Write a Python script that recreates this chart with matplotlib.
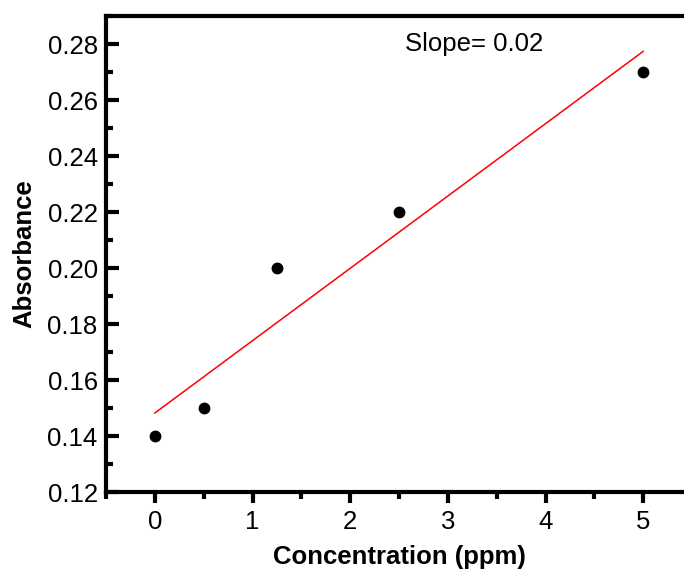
import numpy as np
import matplotlib
matplotlib.use('Agg')
import matplotlib.pyplot as plt
from matplotlib.ticker import MultipleLocator

plt.rcParams['font.family'] = ['Liberation Sans', 'DejaVu Sans']

# Data
conc = [0, 0.5, 1.25, 2.5, 5]
absorb = [0.14, 0.15, 0.20, 0.22, 0.27]
slope_text = 'Slope= 0.02'
xlabel = 'Concentration (ppm)'
ylabel = 'Absorbance'

# linear fit
k, b = np.polyfit(conc, absorb, 1)
xfit = np.array([min(conc), max(conc)])
yfit = k * xfit + b

fig = plt.figure(figsize=(6.84, 5.76), dpi=100)
# axes runs past the right edge, as in the cropped reference
ax = fig.add_axes([106 / 684, 1 - 492 / 576, 586 / 684, 476 / 576])

ax.plot(xfit, yfit, color='red', lw=1.1)
ax.plot(conc, absorb, 'o', color='black', ms=7.5)

ax.set_xlim(-0.5, 5.5)
ax.set_ylim(0.12, 0.29)
ax.xaxis.set_major_locator(MultipleLocator(1))
ax.xaxis.set_minor_locator(MultipleLocator(0.5))
ax.yaxis.set_major_locator(MultipleLocator(0.02))
ax.yaxis.set_minor_locator(MultipleLocator(0.01))
ax.yaxis.set_major_formatter(plt.FormatStrFormatter('%.2f'))

for s in ['left', 'top', 'bottom']:
    ax.spines[s].set_linewidth(3)
ax.spines['right'].set_visible(False)

ax.tick_params(axis='y', which='major', direction='in', length=9, width=3, pad=6, labelsize=18.5)
ax.tick_params(axis='y', which='minor', direction='in', length=5, width=3)
ax.tick_params(axis='x', which='major', direction='out', length=8, width=3, pad=5, labelsize=18.5)
ax.tick_params(axis='x', which='minor', direction='out', length=5, width=3)

ax.text(2.56, 0.28, slope_text, fontsize=18.5, va='center', ha='left')

ax.set_xlabel(xlabel, fontsize=18.5, fontweight='bold', labelpad=8)
ax.set_ylabel(ylabel, fontsize=18.5, fontweight='bold', labelpad=8)

fig.savefig('out.png', dpi=100)
